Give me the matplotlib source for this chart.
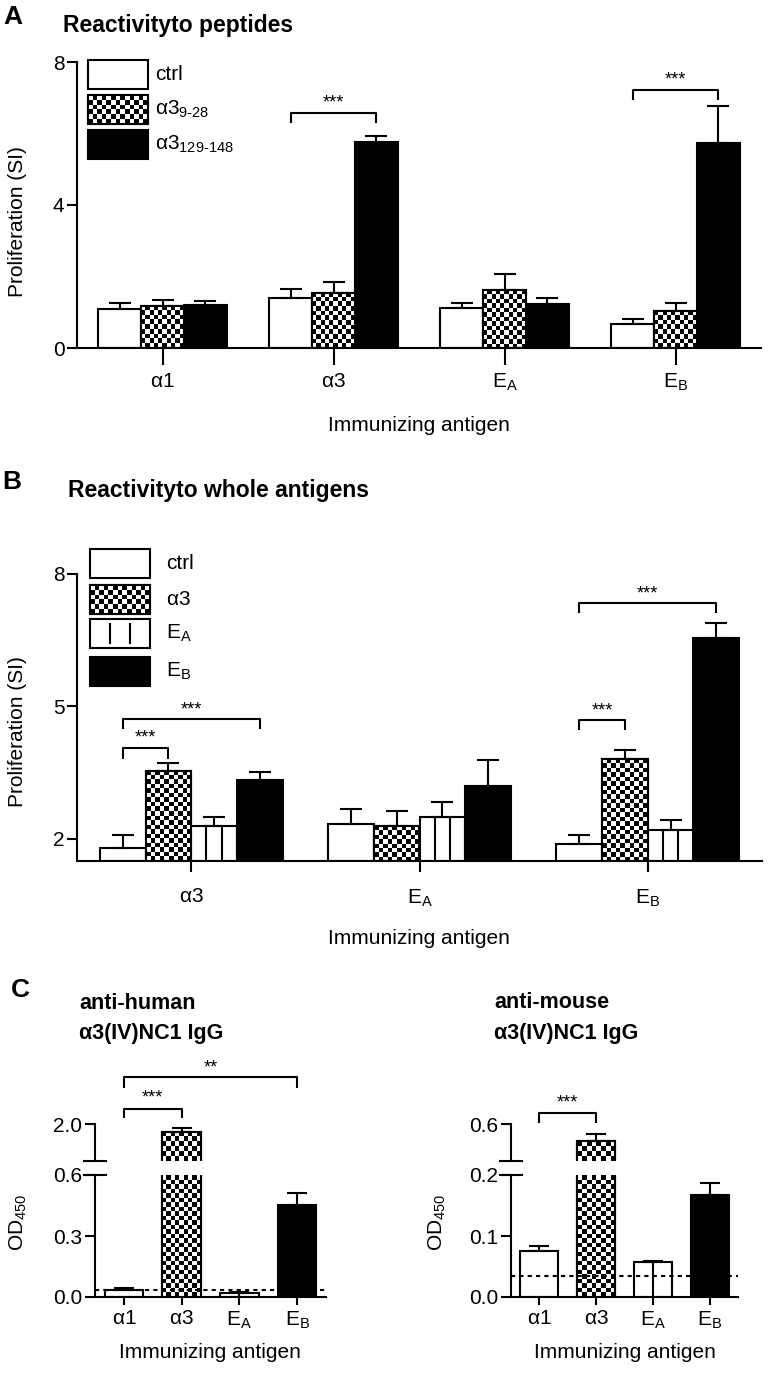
import numpy as np
import matplotlib
matplotlib.use('agg')
import matplotlib.pyplot as plt
from matplotlib.patches import Rectangle

plt.rcParams['font.family'] = ['Liberation Sans', 'DejaVu Sans']
plt.rcParams['mathtext.fontset'] = 'custom'
plt.rcParams['mathtext.rm'] = 'Liberation Sans'
plt.rcParams['mathtext.it'] = 'Liberation Sans:italic'
plt.rcParams['mathtext.default'] = 'regular'

W, H = 768, 1375

# ---- panel A: reactivity to peptides ----
a_antigens = [r'$\alpha$1', r'$\alpha$3', r'E$_A$', r'E$_B$']
a_series = ['ctrl', r'$\alpha$3$_{\text{9-28}}$', r'$\alpha$3$_{\text{129-148}}$']
a_ctrl = [1.08, 1.39, 1.13, 0.68]
a_ctrl_err = [0.19, 0.26, 0.14, 0.12]
a_p9 = [1.18, 1.55, 1.62, 1.04]
a_p9_err = [0.17, 0.31, 0.46, 0.21]
a_p129 = [1.20, 5.77, 1.22, 5.73]
a_p129_err = [0.12, 0.15, 0.19, 1.04]
# (category, bar i, bar j, level, tip, text level, label)
a_sig = [(1, 0, 2, 6.57, 6.29, 6.85, '***'),
         (3, 0, 2, 7.22, 6.94, 7.50, '***')]

# ---- panel B: reactivity to whole antigens ----
b_antigens = [r'$\alpha$3', r'E$_A$', r'E$_B$']
b_series = ['ctrl', r'$\alpha$3', r'E$_A$', r'E$_B$']
b_ctrl = [1.80, 2.34, 1.89]
b_ctrl_err = [0.28, 0.34, 0.20]
b_a3 = [3.54, 2.29, 3.81]
b_a3_err = [0.19, 0.34, 0.20]
b_ea = [2.30, 2.50, 2.20]
b_ea_err = [0.20, 0.34, 0.23]
b_eb = [3.33, 3.20, 6.55]
b_eb_err = [0.19, 0.59, 0.34]
b_sig = [(0, 0, 1, 4.07, 3.82, 4.28, '***'),
         (0, 0, 3, 4.71, 4.49, 4.92, '***'),
         (2, 0, 1, 4.69, 4.47, 4.90, '***'),
         (2, 0, 3, 7.34, 7.11, 7.54, '***')]

# ---- panel C: anti-a3(IV)NC1 IgG ----
c_antigens = [r'$\alpha$1', r'$\alpha$3', r'E$_A$', r'E$_B$']
c_human = [0.036, 1.79, 0.020, 0.452]
c_human_err = [0.008, 0.10, 0.005, 0.061]
c_mouse = [0.0756, 0.462, 0.058, 0.168]
c_mouse_err = [0.008, 0.054, 0.001, 0.019]
c_human_cut = 0.033
c_mouse_cut = 0.034
c_human_sig = [(0, 1, 2.41, 2.16, 2.70, '***'), (0, 3, 3.27, 2.97, 3.52, '**')]
c_mouse_sig = [(0, 1, 0.689, 0.608, 0.77, '***')]

fig = plt.figure(figsize=(W / 100, H / 100), dpi=100)


def add_ax(left, top, right, bottom):
    return fig.add_axes([left / W, 1 - bottom / H, (right - left) / W, (bottom - top) / H])


def style(ax, spines=('left', 'bottom')):
    for s in ['top', 'right', 'left', 'bottom']:
        ax.spines[s].set_visible(s in spines)
        ax.spines[s].set_linewidth(1.5)
    ax.set_facecolor('none')
    ax.tick_params(width=1.5, labelsize=15, colors='k')


def checker_fill(ax, rect, cell=4.5):
    # checker pattern limited to the visible part of the bar
    bb = rect.get_bbox()
    vx0, vx1 = sorted(ax.get_xlim())
    vy0, vy1 = sorted(ax.get_ylim())
    x0, x1 = max(min(bb.x0, bb.x1), vx0), min(max(bb.x0, bb.x1), vx1)
    y0, y1 = max(min(bb.y0, bb.y1), vy0), min(max(bb.y0, bb.y1), vy1)
    if x1 <= x0 or y1 <= y0:
        return
    (px0, py0), (px1, py1) = ax.transData.transform([(x0, y0), (x1, y1)])
    nx = max(1, int(round(abs(px1 - px0) / cell)))
    ny = max(1, int(round(abs(py1 - py0) / cell)))
    arr = (np.add.outer(np.arange(ny), np.arange(nx)) % 2).astype(float)
    ax.imshow(arr, cmap='Greys', vmin=0, vmax=1, extent=(x0, x1, y0, y1),
              origin='lower', interpolation='nearest', aspect='auto',
              zorder=rect.get_zorder() + 0.05)


def draw_bars(ax, x, vals, err, width, kind, bottom=0.0, capsize=8, lines=2):
    x = np.asarray(x, dtype=float)
    vals = np.asarray(vals, dtype=float)
    heights = vals - bottom
    face = 'black' if kind == 'black' else 'white'
    bars = ax.bar(x, heights, width=width, bottom=bottom, color=face, edgecolor='k',
                  linewidth=1.5, zorder=2)
    if kind == 'checker':
        for r in bars:
            checker_fill(ax, r)
        ax.bar(x, heights, width=width, bottom=bottom, fill=False, edgecolor='k',
               linewidth=1.5, zorder=2.2)
    if kind == 'vlines':
        for xi, v in zip(x, vals):
            if lines == 2:
                xs = [xi - width / 6, xi + width / 6]
            else:
                xs = [xi]
            ax.vlines(xs, bottom, v, color='k', lw=1.5, zorder=2.1)
    ax.errorbar(x, vals, yerr=[np.zeros(len(vals)), err], fmt='none', ecolor='k',
                elinewidth=1.5, capsize=capsize, capthick=1.5, zorder=2.3)


def bracket(ax, x1, x2, y, tip, ty, label):
    ax.plot([x1, x1, x2, x2], [tip, y, y, tip], color='k', lw=1.5, clip_on=False,
            solid_capstyle='butt', zorder=3)
    ax.text((x1 + x2) / 2, ty, label, ha='center', va='center', fontsize=13, clip_on=False)


# ================= Panel A =================
axA = add_ax(77, 62, 761, 348)
style(axA)
axA.set_xlim(-0.5, 3.5)
axA.set_ylim(0, 8)
wA = 0.25
xA = np.arange(len(a_antigens))
offA = [-wA, 0, wA]
draw_bars(axA, xA + offA[0], a_ctrl, a_ctrl_err, wA, 'white')
draw_bars(axA, xA + offA[1], a_p9, a_p9_err, wA, 'checker')
draw_bars(axA, xA + offA[2], a_p129, a_p129_err, wA, 'black')
for c, i, j, y, tip, ty, lab in a_sig:
    bracket(axA, c + offA[i], c + offA[j], y, tip, ty, lab)
axA.set_yticks([0, 4, 8])
axA.set_yticklabels(['0', '4', '8'])
axA.set_xticks(xA)
axA.set_xticklabels(a_antigens)
axA.tick_params(axis='y', length=7, pad=2)
axA.tick_params(axis='x', length=12, pad=5)

# ================= Panel B =================
axB = add_ax(77, 574, 762, 861)
style(axB)
axB.set_xlim(-0.5, 2.5)
axB.set_ylim(1.5, 8)
wB = 0.2
xB = np.arange(len(b_antigens))
offB = [-1.5 * wB, -0.5 * wB, 0.5 * wB, 1.5 * wB]
draw_bars(axB, xB + offB[0], b_ctrl, b_ctrl_err, wB, 'white', bottom=1.5)
draw_bars(axB, xB + offB[1], b_a3, b_a3_err, wB, 'checker', bottom=1.5)
draw_bars(axB, xB + offB[2], b_ea, b_ea_err, wB, 'vlines', bottom=1.5)
draw_bars(axB, xB + offB[3], b_eb, b_eb_err, wB, 'black', bottom=1.5)
for c, i, j, y, tip, ty, lab in b_sig:
    bracket(axB, c + offB[i], c + offB[j], y, tip, ty, lab)
axB.set_yticks([2, 5, 8])
axB.set_yticklabels(['2', '5', '8'])
axB.set_xticks(xB)
axB.set_xticklabels(b_antigens)
axB.tick_params(axis='y', length=7, pad=2)
axB.tick_params(axis='x', length=8, pad=11)


# ================= Panel C =================
def panel_c(left, right, vals, errs, lower_lim, upper_lim, lower_ticks, upper_tick, cut, sig):
    lo = add_ax(left, 1175, right, 1297)
    up = add_ax(left, 1124, right, 1161)
    style(lo)
    style(up, spines=('left',))
    xs = np.arange(len(vals))
    wC = 0.67
    kinds = ['white', 'checker', 'vlines', 'black']
    for ax, lims in [(lo, lower_lim), (up, upper_lim)]:
        ax.set_xlim(-0.5, 3.5)
        ax.set_ylim(*lims)
    for k in range(len(vals)):
        draw_bars(lo, [xs[k]], [vals[k]], [errs[k]], wC, kinds[k], capsize=7, lines=1)
        if vals[k] > lower_lim[1]:
            draw_bars(up, [xs[k]], [vals[k]], [errs[k]], wC, kinds[k], capsize=7, lines=1)
    lo.axhline(cut, color='k', lw=1.5, ls=(0, (2, 2)), zorder=4)
    lo.set_yticks(lower_ticks)
    lo.set_yticklabels(['%.1f' % t for t in lower_ticks])
    lo.set_xticks(xs)
    lo.set_xticklabels(c_antigens)
    lo.tick_params(axis='y', length=7, pad=2)
    lo.tick_params(axis='x', length=6, pad=3)
    up.set_yticks([upper_tick])
    up.set_yticklabels(['%.1f' % upper_tick])
    up.tick_params(axis='y', length=7, pad=2)
    up.set_xticks([])
    d = 11 / (right - left)
    up.plot([-d, d], [0, 0], transform=up.transAxes, clip_on=False, color='k', lw=1.5)
    lo.plot([-d, d], [1, 1], transform=lo.transAxes, clip_on=False, color='k', lw=1.5)
    for i, j, y, tip, ty, lab in sig:
        bracket(up, xs[i], xs[j], y, tip, ty, lab)
    return lo, up


panel_c(95, 326, c_human, c_human_err, (0, 0.6), (1.0, 2.0), [0, 0.3, 0.6], 2.0,
        c_human_cut, c_human_sig)
panel_c(511, 738, c_mouse, c_mouse_err, (0, 0.2), (0.3, 0.6), [0, 0.1, 0.2], 0.6,
        c_mouse_cut, c_mouse_sig)

# ================= overlay: labels, titles, legends =================
ov = fig.add_axes([0, 0, 1, 1])
ov.set_xlim(0, W)
ov.set_ylim(H, 0)
ov.axis('off')

ov.text(13, 17, 'A', fontsize=19, fontweight='bold', ha='center', va='center')
ov.text(63, 25, 'Reactivityto peptides', fontsize=16.5, fontweight='bold', va='center')
ov.text(12, 482, 'B', fontsize=19, fontweight='bold', ha='center', va='center')
ov.text(68, 490, 'Reactivityto whole antigens', fontsize=16.5, fontweight='bold', va='center')
ov.text(20, 990, 'C', fontsize=19, fontweight='bold', ha='center', va='center')
ov.text(79, 1003, 'anti-human', fontsize=15.5, fontweight='bold', va='center')
ov.text(79, 1033, 'α3(IV)NC1 IgG', fontsize=15.5, fontweight='bold', va='center')
ov.text(494, 1002, 'anti-mouse', fontsize=15.5, fontweight='bold', va='center')
ov.text(494, 1033, 'α3(IV)NC1 IgG', fontsize=15.5, fontweight='bold', va='center')

for yc in [222, 732]:
    ov.text(18, yc, 'Proliferation (SI)', fontsize=15, rotation=90, ha='center', va='center')
for xc in [18, 437]:
    ov.text(xc, 1222, r'OD$_{450}$', fontsize=15, rotation=90, ha='center', va='center')
for xc, yc in [(419, 425), (419, 938), (210, 1353), (625, 1353)]:
    ov.text(xc, yc, 'Immunizing antigen', fontsize=15, ha='center', va='center')


def legend_box(top, kind, label, x0, gap, h=29):
    r = Rectangle((x0, top), 60, h, facecolor='black' if kind == 'black' else 'white',
                  edgecolor='k', lw=1.5, zorder=2)
    ov.add_patch(r)
    if kind == 'checker':
        checker_fill(ov, r)
        ov.add_patch(Rectangle((x0, top), 60, h, fill=False, edgecolor='k', lw=1.5, zorder=2.2))
    if kind == 'vlines':
        ov.vlines([x0 + 20, x0 + 40], top + 4, top + h - 4, color='k', lw=1.5, zorder=2.1)
    ov.text(x0 + 60 + gap, top + h / 2, label, fontsize=15, va='center')


for top, kind, lab in zip([60, 95, 130], ['white', 'checker', 'black'], a_series):
    legend_box(top, kind, lab, 88, 7)
for top, kind, lab in zip([549, 585, 619, 657], ['white', 'checker', 'vlines', 'black'], b_series):
    legend_box(top, kind, lab, 90, 16)

ov.set_xlim(0, W)
ov.set_ylim(H, 0)

fig.savefig('out.png', dpi=100)
